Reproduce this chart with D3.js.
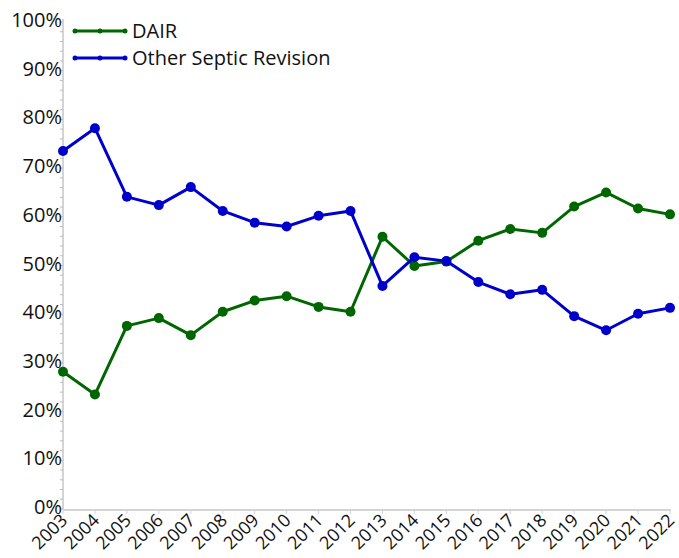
<!DOCTYPE html>
<html>
<head>
<meta charset="utf-8">
<script src="https://cdn.jsdelivr.net/npm/d3@7"></script>
<style>
  body { margin: 0; background: #fff; }
  text { font-family: "Open Sans", "Noto Sans", sans-serif; fill: #111; }
</style>
</head>
<body>
<div id="chart"></div>
<script>
const years = [2003, 2004, 2005, 2006, 2007, 2008, 2009, 2010, 2011, 2012,
  2013, 2014, 2015, 2016, 2017, 2018, 2019, 2020, 2021, 2022];
const dair = [28.2, 23.5, 37.6, 39.2, 35.7, 40.5, 42.8, 43.7, 41.5, 40.5,
  55.9, 49.9, 50.8, 55.1, 57.5, 56.7, 62.1, 65.0, 61.7, 60.5];
const otherSeptic = [73.5, 78.2, 64.1, 62.4, 66.1, 61.2, 58.8, 58.0, 60.2, 61.2,
  45.8, 51.7, 50.9, 46.6, 44.1, 45.0, 39.6, 36.7, 40.1, 41.3];
const yTicks = [0, 10, 20, 30, 40, 50, 60, 70, 80, 90, 100];

const series = [
  { name: 'DAIR', values: dair, color: '#006600' },
  { name: 'Other Septic Revision', values: otherSeptic, color: '#0000cc' },
];

const width = 679;
const height = 558;

const svg = d3.select('#chart').append('svg')
  .attr('width', width)
  .attr('height', height);

const x = d3.scalePoint()
  .domain(years)
  .range([63, 670]);

const y = d3.scaleLinear()
  .domain([0, 100])
  .range([509, 22]);

// y axis: gray line, minor ticks every 2%
svg.append('line')
  .attr('x1', 63).attr('x2', 63)
  .attr('y1', y(100) - 3).attr('y2', y(0))
  .attr('stroke', '#aaa');

svg.append('g')
  .selectAll('line')
  .data(d3.range(0, 101, 2))
  .join('line')
  .attr('x1', 60).attr('x2', 63)
  .attr('y1', d => y(d)).attr('y2', d => y(d))
  .attr('stroke', '#bbb');

svg.append('g')
  .selectAll('text')
  .data(yTicks)
  .join('text')
  .attr('x', 62)
  .attr('y', d => y(d) - 2)
  .attr('dy', '0.35em')
  .attr('text-anchor', 'end')
  .attr('font-size', 20)
  .text(d => `${d}%`);

// x axis
svg.append('line')
  .attr('x1', 63).attr('x2', 671)
  .attr('y1', y(0) + 1).attr('y2', y(0) + 1)
  .attr('stroke', '#d4d4d4')
  .attr('stroke-width', 2);

svg.append('g')
  .selectAll('line')
  .data(years)
  .join('line')
  .attr('x1', d => x(d)).attr('x2', d => x(d))
  .attr('y1', y(0)).attr('y2', y(0) + 5)
  .attr('stroke', '#d4d4d4');

svg.append('g')
  .selectAll('text')
  .data(years)
  .join('text')
  .attr('transform', d => `translate(${x(d) + 1},${y(0) + 8}) rotate(-45)`)
  .attr('text-anchor', 'end')
  .attr('dy', '0.35em')
  .attr('font-size', 18)
  .text(d => d);

// lines + markers
const line = d3.line()
  .x((d, i) => x(years[i]))
  .y(d => y(d));

series.forEach((s) => {
  svg.append('path')
    .datum(s.values)
    .attr('fill', 'none')
    .attr('stroke', s.color)
    .attr('stroke-width', 3)
    .attr('stroke-linejoin', 'round')
    .attr('d', line);

  svg.append('g')
    .selectAll('circle')
    .data(s.values)
    .join('circle')
    .attr('cx', (d, i) => x(years[i]))
    .attr('cy', d => y(d))
    .attr('r', 5)
    .attr('fill', s.color);
});

// legend
const legend = svg.append('g')
  .attr('transform', 'translate(75,31)');

series.forEach((s, i) => {
  const g = legend.append('g')
    .attr('transform', `translate(0,${i * 27})`);
  g.append('line')
    .attr('x1', 0).attr('x2', 50)
    .attr('stroke', s.color)
    .attr('stroke-width', 3);
  g.selectAll('circle')
    .data([0, 25, 50])
    .join('circle')
    .attr('cx', d => d)
    .attr('r', 2.5)
    .attr('fill', s.color);
  g.append('text')
    .attr('x', 57)
    .attr('dy', '0.35em')
    .attr('font-size', 20)
    .text(s.name);
});
</script>
</body>
</html>
